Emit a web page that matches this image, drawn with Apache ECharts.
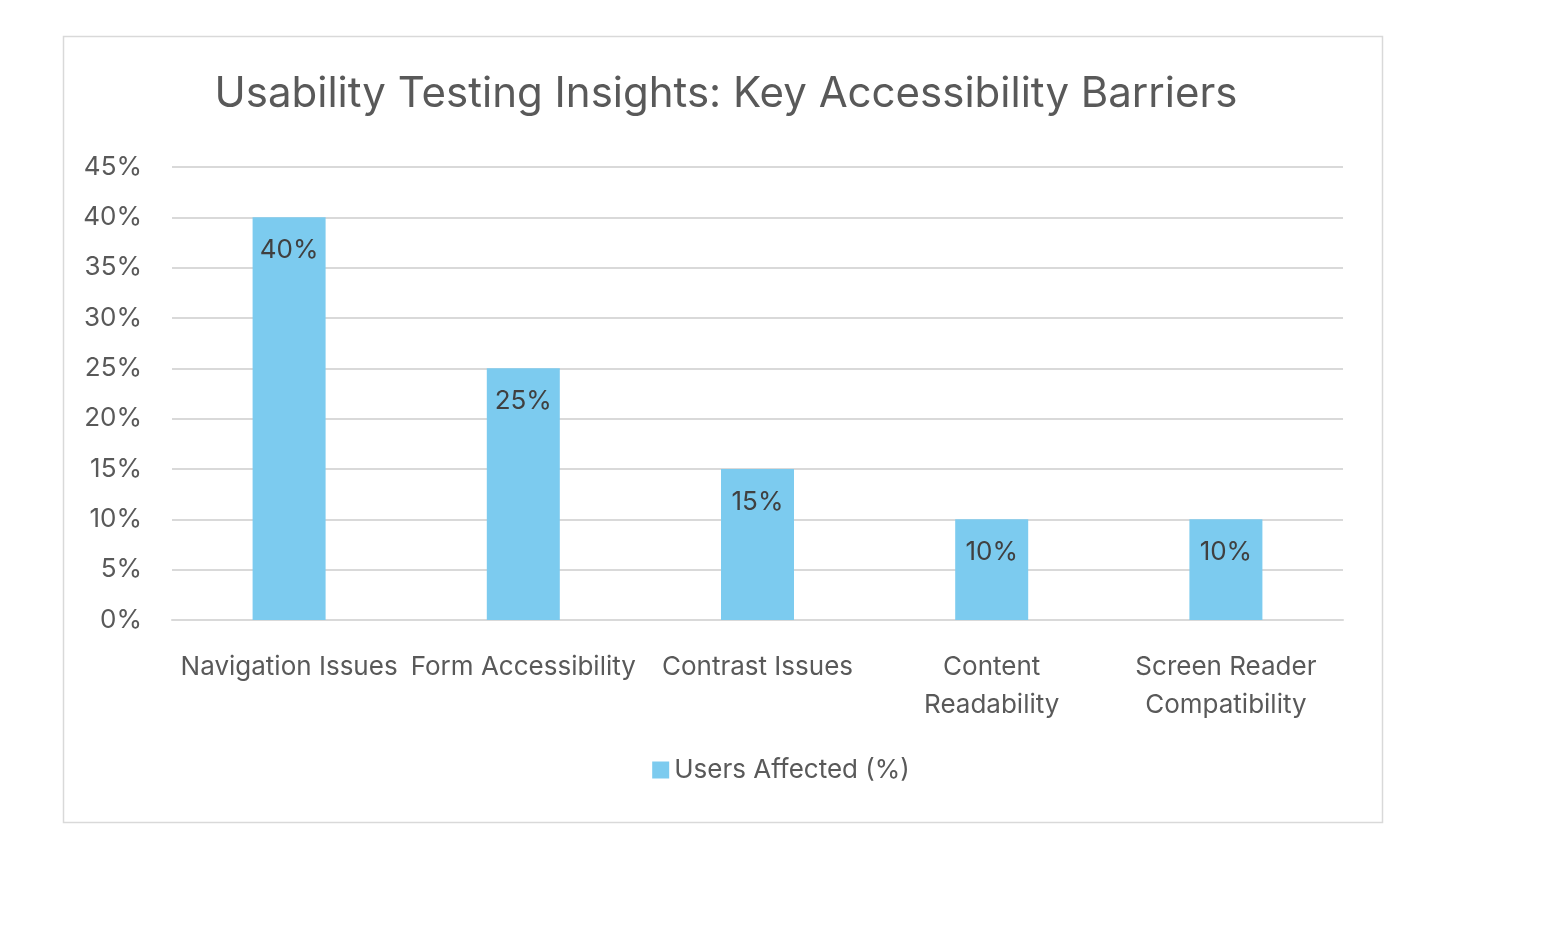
<!DOCTYPE html>
<html><head><meta charset="utf-8">
<script src="https://cdn.jsdelivr.net/npm/echarts@6/dist/echarts.min.js"></script>
<style>html,body{margin:0;background:#fff}#c{width:1562px;height:948px}</style>
</head><body><div id="c"></div>
<script>
const categories = ["Navigation Issues","Form Accessibility","Contrast Issues","Content\nReadability","Screen Reader\nCompatibility"];
const values = [40,25,15,10,10];
const seriesName = "Users Affected (%)";
const chart = echarts.init(document.getElementById('c'));
const font = "Inter, 'Open Sans', sans-serif";
chart.setOption({
  animation:false,
  graphic:[{type:'rect',shape:{x:63.5,y:36.5,width:1319,height:786},style:{fill:'none',stroke:'#d9d9d9',lineWidth:1.5}}],
  title:{text:"Usability Testing Insights: Key Accessibility Barriers",left:721,top:68,textAlign:'center',
    textStyle:{fontFamily:font,fontSize:42,fontWeight:'normal',color:'#595959'}},
  legend:{bottom:160,left:'center',itemWidth:17,itemHeight:17,icon:'rect',itemGap:8,
    textStyle:{fontFamily:font,fontSize:26,color:'#595959'}},
  grid:{left:172,right:219,top:167,bottom:328},
  xAxis:{type:'category',data:categories,
    axisLine:{lineStyle:{color:'#d9d9d9',width:2}},axisTick:{show:false},
    axisLabel:{fontFamily:font,fontSize:26,color:'#595959',margin:28,lineHeight:38,interval:0}},
  yAxis:{type:'value',min:0,max:45,interval:5,
    axisLabel:{formatter:'{value}%',fontFamily:font,fontSize:26,color:'#595959',margin:30},
    splitLine:{lineStyle:{color:'#d9d9d9',width:2}}},
  series:[{name:seriesName,type:'bar',data:values,barWidth:73,itemStyle:{color:'#7ccbef'},
    label:{show:true,position:'insideTop',distance:20,formatter:'{c}%',fontFamily:font,fontSize:26,color:'#404040'}}]
});
</script></body></html>
